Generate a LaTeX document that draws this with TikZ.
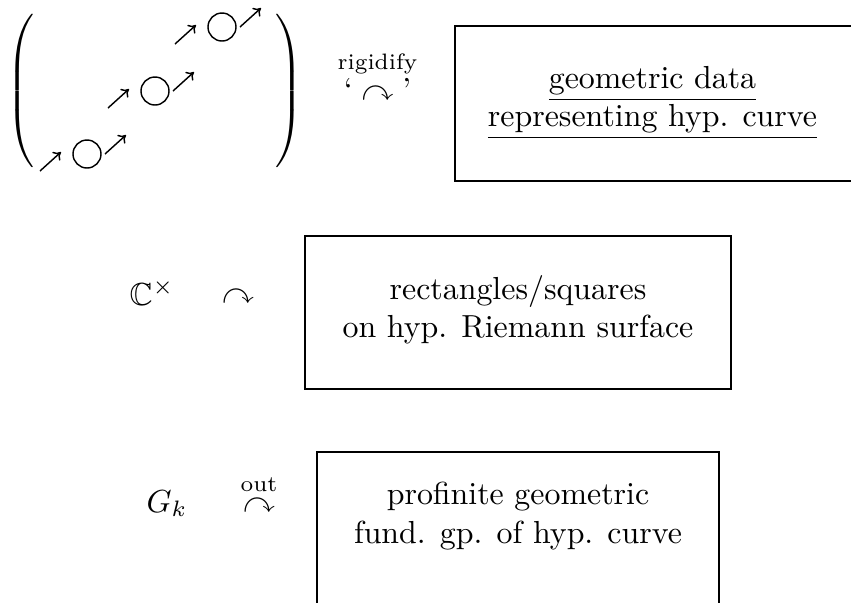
\documentclass[tikz,border=0pt]{standalone}
\usepackage{amsmath,amssymb}
\usetikzlibrary{arrows.meta,calc}
\def\pxu{0.3135pt}
\newcommand{\tallparen}[1]{$\delimiterfactor=1000 \delimitershortfall=0pt
  \left#1\vcenter{\hbox{\vrule height 23pt depth 23pt width 0pt}}\right.$}
\newcommand{\tallparenR}[1]{$\delimiterfactor=1000 \delimitershortfall=0pt
  \left.\vcenter{\hbox{\vrule height 23pt depth 23pt width 0pt}}\right#1$}
\begin{document}
\begin{tikzpicture}[x=\pxu,y=-\pxu,
  box/.style={draw, line width=0.6pt, align=center, inner sep=0pt},
  ring/.style={draw, circle, minimum size=28*\pxu, inner sep=0pt, line width=0.45pt},
  tinyarrow/.style={line width=0.45pt, -{To[length=2.2pt,width=3.6pt]}},
  txt/.style={anchor=base, inner sep=0pt}]
\useasboundingbox (0,0) rectangle (851,602);

% left matrix
\node[inner sep=0pt] (lpar) at (22,91) {\tallparen{(}};
\node[inner sep=0pt] (rpar) at (288,91) {\tallparenR{)}};
\foreach \i/\x/\y in {1/87/154, 2/155/91, 3/222/27} {
  \node[ring] (o\i) at (\x,\y) {};
  \coordinate (p\i) at ($(o\i)+(-47,17)$);
  \coordinate (q\i) at ($(o\i)+(-26,-2)$);
  \coordinate (r\i) at ($(o\i)+(18,0)$);
  \coordinate (s\i) at ($(o\i)+(39,-19)$);
  \draw[tinyarrow] (p\i) -- (q\i);
  \draw[tinyarrow] (r\i) -- (s\i);
}

% actions
\node[txt] (act1) at (377.5,100) {$\overset{\text{rigidify}}{\text{`}\curvearrowright\text{'}}$};
\node[txt] (cx) at (152,305) {$\mathbb{C}^\times$};
\node[txt] (act2) at (238,303) {$\curvearrowright$};
\node[txt] (gk) at (167,512) {$G_k$};
\node[txt] (act3) at (259,512) {$\overset{\text{out}}{\curvearrowright}$};

% boxes
\node[box, minimum width=405*\pxu, minimum height=155*\pxu] (geo) at (657.5,103.5) {};
\node[align=center, inner sep=0pt] (geotext) at (652.5,103)
  {\underline{geometric data}\\\underline{representing hyp. curve}};
\node[box, minimum width=426*\pxu, minimum height=153*\pxu] (rect) at (518,312.5) {};
\node[align=center, inner sep=0pt] (recttext) at (518,310)
  {rectangles/squares\\on hyp. Riemann surface};
\node[box, minimum width=402*\pxu, minimum height=153*\pxu] (prof) at (518,528.5) {};
\node[align=center, inner sep=0pt] (proftext) at (518,516)
  {profinite geometric\\fund. gp. of hyp. curve};
\end{tikzpicture}
\end{document}
